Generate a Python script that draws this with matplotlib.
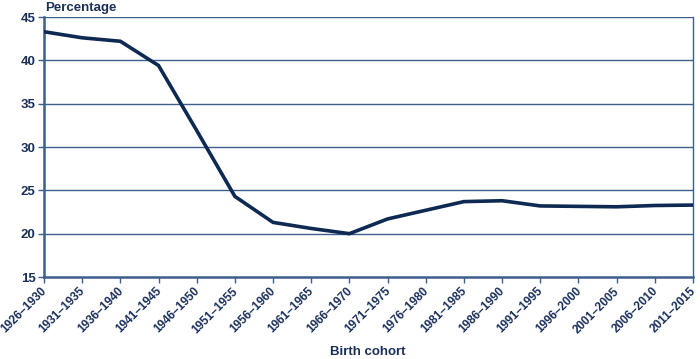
import matplotlib
matplotlib.use("Agg")
import matplotlib.pyplot as plt
import matplotlib.transforms as mtransforms

cohorts = ["1926–1930", "1931–1935", "1936–1940", "1941–1945", "1946–1950",
           "1951–1955", "1956–1960", "1961–1965", "1966–1970", "1971–1975",
           "1976–1980", "1981–1985", "1986–1990", "1991–1995", "1996–2000",
           "2001–2005", "2006–2010", "2011–2015"]
values = [43.3, 42.6, 42.2, 39.4, 31.9, 24.3, 21.3, 20.6, 20.0, 21.7,
          22.7, 23.7, 23.8, 23.2, 23.15, 23.1, 23.25, 23.3]
yticks = [15, 20, 25, 30, 35, 40, 45]

navy = "#0f2a52"
grid = "#3d5f8c"
text_c = "#1a2f5a"

plt.rcParams['font.family'] = ['Liberation Sans', 'DejaVu Sans']

fig = plt.figure(figsize=(7, 3.59), dpi=100)
ax = fig.add_axes([44/700, 1-277/359, (693-44)/700, (277-17)/359])

x = list(range(len(cohorts)))
ax.plot(x, values, color=navy, linewidth=2.6, solid_joinstyle='miter', zorder=3)

ax.set_xlim(0, len(cohorts)-1)
ax.set_ylim(15, 45)
ax.set_yticks(yticks)
ax.set_xticks(x)
ax.set_xticklabels(cohorts, rotation=45, ha='right', va='center', rotation_mode='anchor')
for y in yticks[1:]:
    ax.axhline(y, color=grid, linewidth=1.0, zorder=1)

ax.spines['top'].set_visible(False)
ax.spines['left'].set_color(grid)
ax.spines['left'].set_linewidth(1.8)
ax.spines['bottom'].set_color(grid)
ax.spines['bottom'].set_linewidth(1.8)
ax.spines['right'].set_color(grid)
ax.spines['right'].set_linewidth(1.0)

ax.tick_params(axis='both', colors=grid, labelcolor=text_c, length=4, width=1)
ax.tick_params(axis='y', labelsize=9.5, length=4, pad=2)
ax.tick_params(axis='x', labelsize=8.5, pad=5)
offset = mtransforms.ScaledTranslation(0.01, 0, fig.dpi_scale_trans)
for lab in ax.get_xticklabels():
    lab.set_transform(lab.get_transform() + offset)
for lab in ax.get_xticklabels() + ax.get_yticklabels():
    lab.set_fontweight('bold')

fig.text(45/700, 1-8/359, "Percentage", color=text_c, fontsize=9.5, fontweight='bold', va='center', ha='left')
fig.text(368/700, 1-352/359, "Birth cohort", color=text_c, fontsize=9.5, fontweight='bold', va='center', ha='center')

fig.savefig("out.png", dpi=100)
